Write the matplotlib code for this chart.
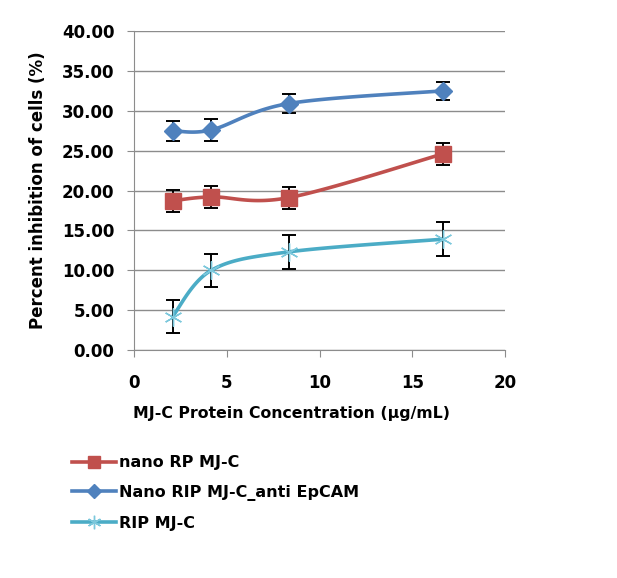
import numpy as np
import matplotlib
matplotlib.use("Agg")
import matplotlib.pyplot as plt

plt.rcParams["font.family"] = ["DejaVu Sans"]
plt.rcParams["font.weight"] = "bold"

# concentrations [ug/mL]
conc = [2.08, 4.17, 8.33, 16.67]

nano_rp = [18.7, 19.2, 19.1, 24.6]
nano_rp_err = [1.4, 1.35, 1.4, 1.4]

nano_rip_epcam = [27.5, 27.6, 30.9, 32.5]
nano_rip_epcam_err = [1.25, 1.35, 1.2, 1.15]

rip = [4.2, 10.0, 12.3, 13.9]
rip_err = [2.1, 2.1, 2.1, 2.1]

labels = ["nano RP MJ-C", "Nano RIP MJ-C_anti EpCAM", "RIP MJ-C"]


def smooth(x, y, n=40):
    # catmull-rom style curve through the points (like excel's smoothed line)
    x = np.asarray(x, float)
    y = np.asarray(y, float)
    px = np.concatenate([[x[0]], x, [x[-1]]])
    py = np.concatenate([[y[0]], y, [y[-1]]])
    xs, ys = [], []
    for i in range(1, len(px) - 2):
        p0 = np.array([px[i - 1], py[i - 1]])
        p1 = np.array([px[i], py[i]])
        p2 = np.array([px[i + 1], py[i + 1]])
        p3 = np.array([px[i + 2], py[i + 2]])
        c1 = p1 + (p2 - p0) / 6
        c2 = p2 - (p3 - p1) / 6
        t = np.linspace(0, 1, n)[:, None]
        b = ((1 - t) ** 3) * p1 + 3 * ((1 - t) ** 2) * t * c1 + 3 * (1 - t) * t**2 * c2 + t**3 * p2
        xs.extend(b[:, 0])
        ys.extend(b[:, 1])
    return xs, ys


fig = plt.figure(figsize=(6.17, 5.78), dpi=100)
ax = fig.add_axes([134 / 617, 1 - 350 / 578, (505 - 134) / 617, (350 - 31) / 578])

series = [
    (nano_rp, nano_rp_err, "#C0504D", dict(marker="s", markersize=11, markerfacecolor="#C0504D", markeredgecolor="#C0504D")),
    (nano_rip_epcam, nano_rip_epcam_err, "#4F81BD", dict(marker="D", markersize=9, markerfacecolor="#4F81BD", markeredgecolor="#4F81BD")),
    (rip, rip_err, "#4BACC6", dict(marker=(6, 2, 0), markersize=13, markeredgecolor="#7CC8DC", markeredgewidth=1.0)),
]

handles = []
for (vals, err, col, mk), lab in zip(series, labels):
    sx, sy = smooth(conc, vals)
    ax.plot(sx, sy, color=col, lw=2.6, zorder=2, solid_capstyle="round")
    ax.errorbar(conc, vals, yerr=err, fmt="none", ecolor="black", elinewidth=1.4,
                capsize=5, capthick=1.4, zorder=3)
    ax.plot(conc, vals, ls="none", zorder=4, **mk)
    h, = plt.plot([], [], color=col, lw=2.6, **mk)
    handles.append(h)

ax.set_xlim(0, 20)
ax.set_ylim(0, 40)
ax.set_xticks([0, 5, 10, 15, 20])
ax.set_yticks(np.arange(0, 41, 5))
ax.set_yticklabels(["{:.2f}".format(v) for v in np.arange(0, 41, 5)])
ax.yaxis.grid(True, color="#8C8C8C", lw=1)
ax.set_axisbelow(True)
for s in ["top", "right"]:
    ax.spines[s].set_visible(False)
for s in ["left", "bottom"]:
    ax.spines[s].set_color("#8C8C8C")
ax.tick_params(axis="both", colors="#8C8C8C", labelcolor="black", labelsize=12, length=5, direction="out")
ax.tick_params(axis="x", pad=12)
ax.tick_params(axis="y", pad=9)
for t in ax.get_xticklabels() + ax.get_yticklabels():
    t.set_fontweight("bold")

ax.set_xlabel("MJ-C Protein Concentration (\u00b5g/mL)", fontsize=11.3, fontweight="bold")
ax.xaxis.set_label_coords(0.4245, -56 / 319, transform=ax.transAxes)
ax.set_ylabel("Percent inhibition of cells (%)", fontsize=12, fontweight="bold", labelpad=11)

fig.legend(handles, labels, loc="upper left", bbox_to_anchor=(58 / 617, 1 - 441 / 578),
           frameon=False, handlelength=2.7, handletextpad=0.2,
           labelspacing=0.92, markerscale=0.75, prop={"weight": "bold", "size": 11.5})

fig.savefig("out.png", dpi=100)
